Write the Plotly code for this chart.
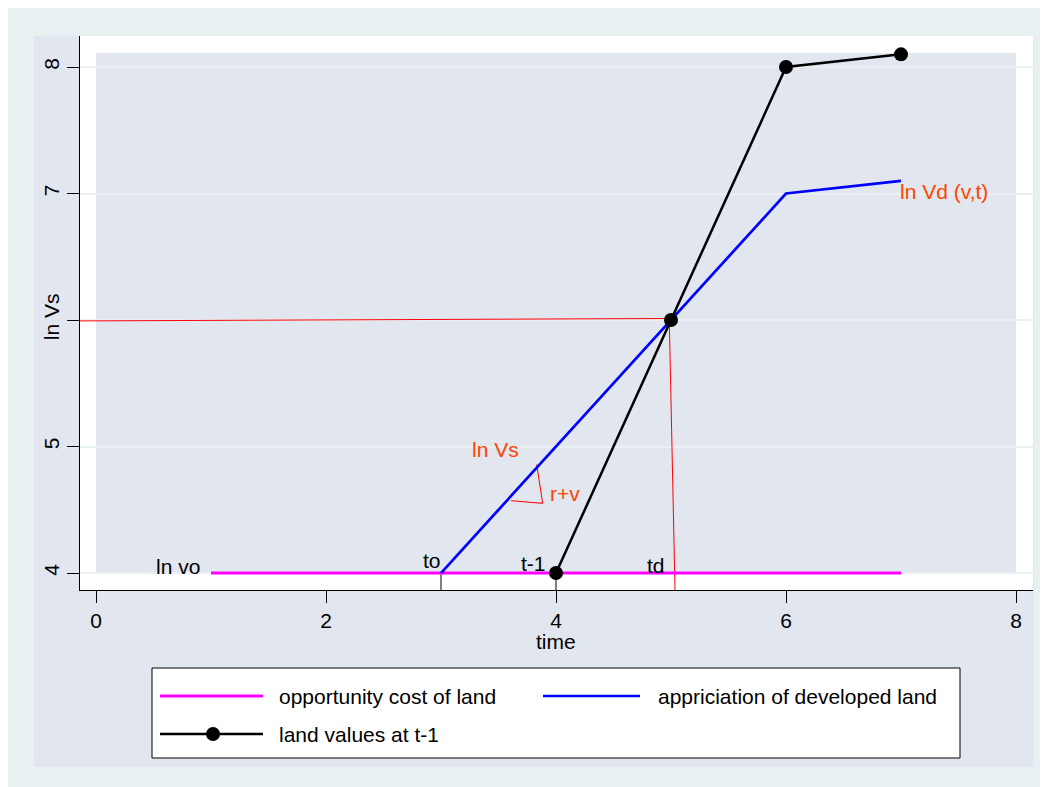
import plotly.graph_objects as go

# ---- data ----
opp_x = [1, 2, 3, 4, 5, 6, 7]
opp_y = [4, 4, 4, 4, 4, 4, 4]
dev_x = [3, 5, 6, 7]
dev_y = [4, 6, 7, 7.1]
land_x = [4, 5, 6, 7]
land_y = [4, 6, 8, 8.1]

x_ticks = [0, 2, 4, 6, 8]
x_ticklabels = ["0", "2", "4", "6", "8"]
y_ticks = [4, 5, 6, 7, 8]
y_ticklabels = ["4", "5", "ln Vs", "7", "8"]

# guide lines drawn on the chart (annotation lines)
hguide_x = [-0.139, 5.0]
hguide_y = [5.993, 6.012]
vguide_x = [4.985, 5.035]
vguide_y = [6.004, 3.866]
slope_x = [3.832, 3.884, 3.609]
slope_y = [4.859, 4.551, 4.572]
drop_x = [3, 4]

# text labels: (text, x, y, colour)
labels = [
    ("lnV", -0.445, 7.62, "#FF4500"),
    ("ln Vd (v,t)", 6.975, 7.012, "#FF4500"),
    ("ln Vs", 3.255, 4.98, "#FF4500"),
    ("r+v", 3.93, 4.632, "#FF4500"),
    ("ln vo", 0.50, 4.055, "black"),
    ("to", 2.825, 4.103, "black"),
    ("t-1", 3.675, 4.074, "black"),
    ("td", 4.773, 4.063, "black"),
]

legend_names = ["opportunity cost of land", "appriciation of developed land", "land values at t-1"]

FONT = "Liberation Sans, Arial, sans-serif"
OUTER = "#E9F0F2"
LAV = "#E1E6EF"
GRID = "#E9F0F2"

fig = go.Figure()

# guides (drawn under the main series)
fig.add_trace(go.Scatter(x=hguide_x, y=hguide_y, mode="lines",
                         line=dict(color="#FF0000", width=1), showlegend=False, hoverinfo="skip"))
fig.add_trace(go.Scatter(x=vguide_x, y=vguide_y, mode="lines",
                         line=dict(color="#FF0000", width=1), showlegend=False, hoverinfo="skip"))
fig.add_trace(go.Scatter(x=slope_x, y=slope_y, mode="lines",
                         line=dict(color="#FF0000", width=1), showlegend=False, hoverinfo="skip"))
for dx in drop_x:
    fig.add_trace(go.Scatter(x=[dx, dx], y=[4, 3.86], mode="lines",
                             line=dict(color="black", width=1), showlegend=False, hoverinfo="skip"))

fig.add_trace(go.Scatter(x=opp_x, y=opp_y, mode="lines", name=legend_names[0],
                         line=dict(color="#FF00FF", width=3), showlegend=False))
fig.add_trace(go.Scatter(x=dev_x, y=dev_y, mode="lines", name=legend_names[1],
                         line=dict(color="#0000FF", width=2.7), showlegend=False))
fig.add_trace(go.Scatter(x=land_x, y=land_y, mode="lines+markers", name=legend_names[2],
                         line=dict(color="black", width=2.5),
                         marker=dict(color="black", size=14), showlegend=False))

W, H = 1048, 787
OFF = 8  # page body margin
L, R, T, B = 72, 23, 28, 205
PW, PH = W - L - R, H - T - B


def px(xp):
    # reference-screenshot pixel x -> paper fraction
    return (xp - OFF - L) / PW


def py(yp):
    return (H - B - (yp - OFF)) / PH


shapes = [
    dict(type="rect", xref="paper", yref="paper", x0=px(34), x1=px(1034), y0=py(767), y1=py(36),
         fillcolor=LAV, line=dict(width=0), layer="below"),
    dict(type="rect", xref="paper", yref="paper", x0=0, x1=1, y0=0, y1=1,
         fillcolor="white", line=dict(width=0), layer="below"),
    dict(type="rect", xref="x", yref="y", x0=0, x1=8, y0=4, y1=8.11,
         fillcolor=LAV, line=dict(width=0), layer="below"),
    # legend box
    dict(type="rect", xref="paper", yref="paper", x0=px(152), x1=px(960), y0=py(758), y1=py(668),
         fillcolor="white", line=dict(color="black", width=1), layer="above"),
    dict(type="line", xref="paper", yref="paper", x0=px(160), x1=px(263), y0=py(696), y1=py(696),
         line=dict(color="#FF00FF", width=3), layer="above"),
    dict(type="line", xref="paper", yref="paper", x0=px(543), x1=px(640), y0=py(696), y1=py(696),
         line=dict(color="#0000FF", width=2.7), layer="above"),
    dict(type="line", xref="paper", yref="paper", x0=px(160), x1=px(263), y0=py(734), y1=py(734),
         line=dict(color="black", width=2.5), layer="above"),
    dict(type="circle", xref="paper", yref="paper", xsizemode="pixel", ysizemode="pixel",
         xanchor=px(213), yanchor=py(734), x0=-7, x1=7, y0=-7, y1=7,
         fillcolor="black", line=dict(color="black", width=0), layer="above"),
]

annotations = []
for text, x, y, col in labels:
    annotations.append(dict(text=text, x=x, y=y, xref="x", yref="y", xanchor="left", yanchor="middle",
                            showarrow=False, font=dict(family=FONT, size=21, color=col)))

for text, xp_, yp_ in [(legend_names[0], 277, 696), (legend_names[1], 656, 696), (legend_names[2], 277, 734)]:
    annotations.append(dict(text=text, x=px(xp_), y=py(yp_), xref="paper", yref="paper",
                            xanchor="left", yanchor="middle", showarrow=False,
                            font=dict(family=FONT, size=21, color="black")))

# axis title "time"
annotations.append(dict(text="time", x=px(556), y=py(641), xref="paper", yref="paper",
                        xanchor="center", yanchor="middle", showarrow=False,
                        font=dict(family=FONT, size=21, color="black")))

fig.update_layout(
    width=W, height=H,
    margin=dict(l=L, r=R, t=T, b=B, pad=0),
    paper_bgcolor=OUTER, plot_bgcolor="white",
    font=dict(family=FONT, size=21, color="black"),
    shapes=shapes, annotations=annotations, showlegend=False,
    xaxis=dict(range=[-0.1391, 8.1478], tickmode="array", tickvals=x_ticks, ticktext=x_ticklabels,
               showgrid=False, zeroline=False, showline=True, linecolor="black", linewidth=1,
               ticks="outside", ticklen=12, tickcolor="black", tickwidth=1,
               tickfont=dict(family=FONT, size=21)),
    yaxis=dict(range=[3.866, 8.245], tickmode="array", tickvals=y_ticks, ticktext=y_ticklabels,
               tickangle=-90, showgrid=True, gridcolor=GRID, gridwidth=1.5,
               zeroline=False, showline=True, linecolor="black", linewidth=1,
               ticks="outside", ticklen=12, tickcolor="black", tickwidth=1,
               tickfont=dict(family=FONT, size=21)),
)

fig.write_html("out.html")
